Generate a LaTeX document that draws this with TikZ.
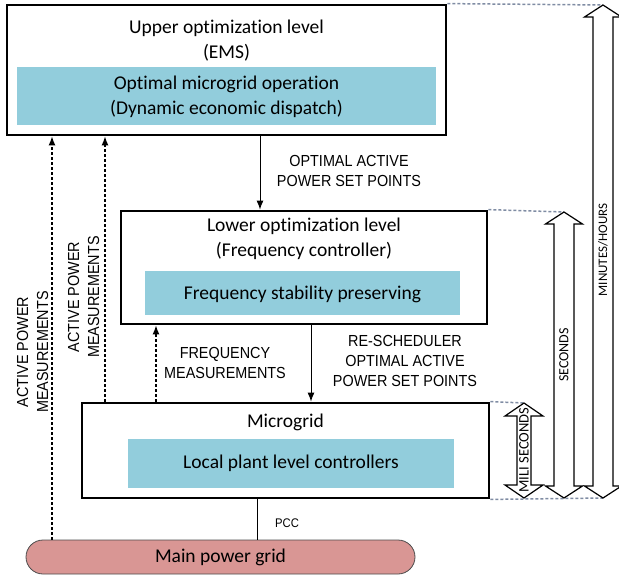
\documentclass[tikz,border=0pt]{standalone}
\usepackage{fontspec}
\setmainfont{Carlito}[Ligatures=NoCommon]
\newfontfamily\capsf[FakeStretch=0.9]{Liberation Sans}
\usetikzlibrary{arrows.meta,shapes.misc}
\definecolor{bluefill}{HTML}{92CDDC}
\definecolor{gridfill}{HTML}{D99694}
\definecolor{dashgrey}{HTML}{7F8CA3}
\newcommand\tsarrow[6]{%
  \path[blockarrow] (#1,#4) -- (#1+#3,#4+#6) -- (#1+#2,#4+#6) -- (#1+#2,#5-#6) -- (#1+#3,#5-#6) -- (#1,#5)
    -- (#1-#3,#5-#6) -- (#1-#2,#5-#6) -- (#1-#2,#4+#6) -- (#1-#3,#4+#6) -- cycle;}
\begin{document}
\begin{tikzpicture}[x=1pt,y=-1pt,
  mainbox/.style={draw=black, line width=2.8pt, fill=white, inner sep=0pt},
  bluebox/.style={fill=bluefill, draw=none, inner sep=0pt},
  bodytext/.style={font=\fontsize{19.5}{25}\selectfont, align=center, inner sep=0pt},
  capstext/.style={font=\capsf\fontsize{16}{20}\selectfont, align=center, inner sep=0pt},
  flow/.style={draw=black, line width=1pt, -{Latex[length=9pt,width=7pt]}},
  meas/.style={draw=black, line width=1.3pt, dash pattern=on 3pt off 2pt, -{Latex[length=9pt,width=7pt]}},
  guide/.style={draw=dashgrey, line width=1.5pt, dash pattern=on 3pt off 2pt},
  blockarrow/.style={draw=black, line width=1.2pt, fill=white, line join=miter},
  scaletext/.style={font=\fontsize{14}{16}\selectfont, inner sep=0pt}
]
\useasboundingbox (0,0) rectangle (619,579);

% boxes
\node[mainbox, minimum width=439pt, minimum height=130pt] (upper) at (226.5,70) {};
\node[bluebox, minimum width=419pt, minimum height=58pt] (upperblue) at (226.5,96) {};
\node[bodytext] (uppertitle) at (226.5,40.5) {Upper optimization level\\(EMS)};
\node[bodytext] (upperbluetext) at (226.5,96.5) {Optimal microgrid operation\\(Dynamic economic dispatch)};

\node[mainbox, minimum width=366pt, minimum height=113pt] (lower) at (304,267.5) {};
\node[bluebox, minimum width=315pt, minimum height=44pt] (lowerblue) at (302.5,293) {};
\node[bodytext] (lowertitle) at (304,239) {Lower optimization level\\(Frequency controller)};
\node[bodytext] (lowerbluetext) at (302.5,294) {Frequency stability preserving};

\node[mainbox, minimum width=407pt, minimum height=95pt] (micro) at (285.5,450.5) {};
\node[bluebox, minimum width=326pt, minimum height=49pt] (microblue) at (291,463.5) {};
\node[bodytext] (microtitle) at (285.5,422) {Microgrid};
\node[bodytext] (microbluetext) at (291,463.5) {Local plant level controllers};

\node[rounded rectangle, draw=black!70, line width=0.8pt, fill=gridfill, minimum width=389pt, minimum height=34pt, inner sep=0pt] (grid) at (220.5,557) {};
\node[bodytext] (gridtext) at (220.5,557) {Main power grid};

% connector x positions
\coordinate (xa) at (260,0);
\coordinate (xb) at (311,0);
\coordinate (xm1) at (52,0);
\coordinate (xm2) at (105,0);
\coordinate (xf) at (156,0);
\coordinate (xp) at (257,0);

\draw[flow] (upper.south -| xa) -- (lower.north -| xa);
\draw[flow] (lower.south -| xb) -- (micro.north -| xb);
\draw[meas] (grid.north -| xm1) -- (upper.south -| xm1);
\draw[meas] (micro.north -| xm2) -- (upper.south -| xm2);
\draw[meas] (micro.north -| xf) -- (lower.south -| xf);
\draw[line width=1pt] (micro.south -| xp) -- (grid.north -| xp);

% labels
\node[capstext] (lbl1) at (349,171) {OPTIMAL ACTIVE\\POWER SET POINTS};
\node[capstext] (lbl2) at (405,361) {RE-SCHEDULER\\OPTIMAL ACTIVE\\POWER SET POINTS};
\node[capstext] (lbl3) at (225,363) {FREQUENCY\\MEASUREMENTS};
\node[capstext, rotate=90] (lbl4) at (32.5,352) {ACTIVE POWER\\MEASUREMENTS};
\node[capstext, rotate=90] (lbl5) at (83.5,297) {ACTIVE POWER\\MEASUREMENTS};
\node[font=\capsf\fontsize{12.5}{14}\selectfont, inner sep=0pt] (pcc) at (287,523) {PCC};

% time-scale arrows
\coordinate (tmin) at (603,5);
\coordinate (tsec) at (564,212);
\coordinate (tmili) at (524,403);
\coordinate (bmin) at (603,498);
\draw[guide] (upper.north east) -- (tmin);
\draw[guide] (lower.north east) -- (tsec);
\draw[guide] (micro.north east) -- (tmili);
\draw[guide] (micro.south east) -- (bmin);

\tsarrow{603}{10}{18.5}{5}{498}{12}
\tsarrow{564}{10}{18.5}{212}{498}{12}
\tsarrow{524}{7}{19}{403}{498}{13}

\node[scaletext, font=\fontsize{13}{15}\selectfont, rotate=90] (tmintext) at (603,250) {MINUTES/HOURS};
\node[scaletext, rotate=90] (tsectext) at (564,355) {SECONDS};
\node[scaletext, font=\fontsize{14.5}{16}\selectfont, rotate=90] (tmilitext) at (524,450) {MILI SECONDS};
\end{tikzpicture}
\end{document}
